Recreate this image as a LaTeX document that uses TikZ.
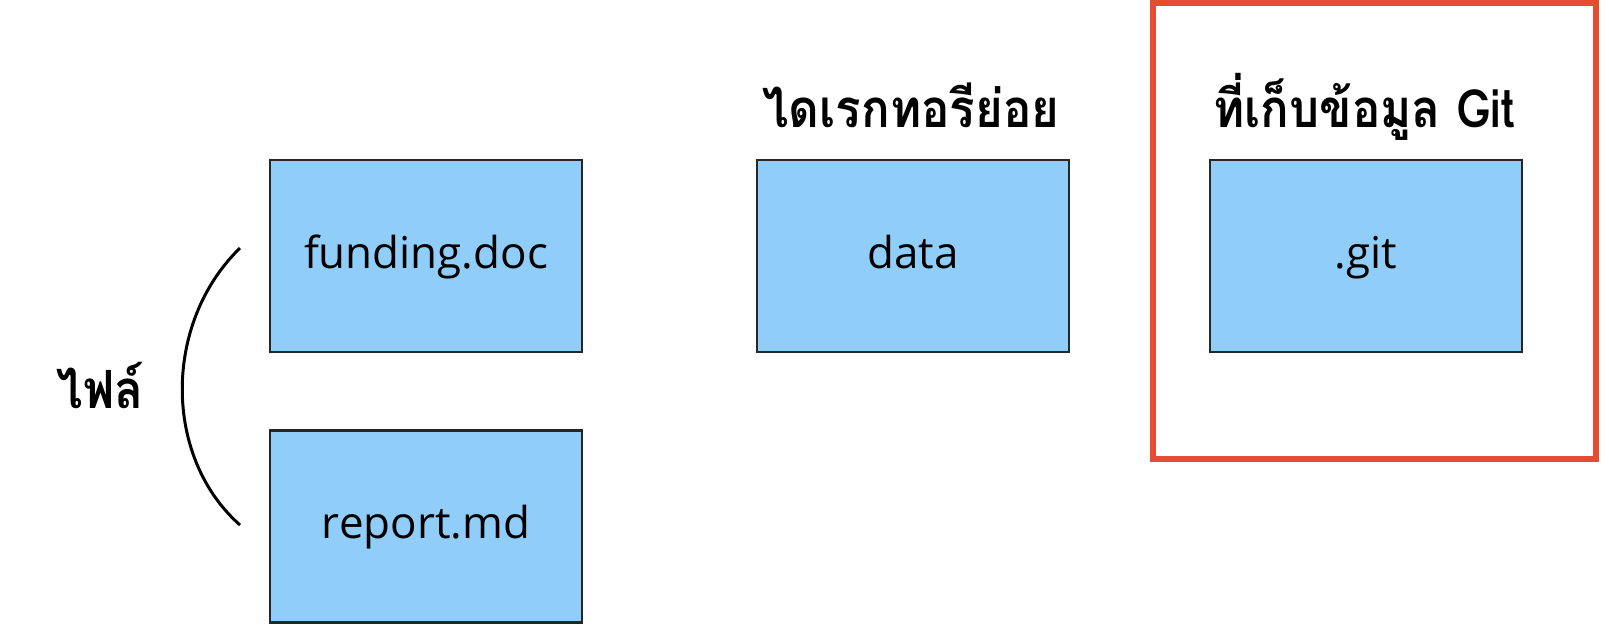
\documentclass[tikz,border=0pt]{standalone}
\usepackage{fontspec}
\setmainfont{Open Sans}
\newfontfamily\thaifont[Script=Thai,FakeStretch=0.9]{Loma}
\definecolor{fileblue}{RGB}{144,205,248}
\definecolor{repored}{RGB}{232,76,48}

\begin{document}
\begin{tikzpicture}[x=0.02cm,y=-0.02cm]
   \useasboundingbox (0,0) rectangle (1609,640);
   \tikzstyle{filebox}=[rectangle, draw=black!85, line width=1.2pt, fill=fileblue, minimum width=6.24cm, minimum height=3.84cm, text height=1.6em, text depth=0.2em, font=\fontsize{25}{29}\selectfont]
   \tikzstyle{heading}=[anchor=base, font=\thaifont\bfseries\fontsize{30}{34}\selectfont]
   \node[draw=repored, line width=3.5pt, minimum width=8.86cm, minimum height=9.12cm] (repo) at (1374.5,231) {};
   \node[filebox] (funding) at (426,256) {funding.doc};
   \node[filebox] (report) at (426,526.5) {report.md};
   \node[filebox] (data) at (913,256) {data};
   \node[filebox] (git) at (1366,256) {.git};
   \node[heading] (subdir) at (911,127) {ไดเรกทอรีย่อย};
   \node[heading] (store) at (1364,127) {ที่เก็บข้อมูล Git};
   \node[heading] (files) at (100,408) {ไฟล์};
   \coordinate (ctop) at (240,248);
   \coordinate (cbot) at (240,525);
   \draw[line width=1.7pt] (ctop) .. controls (163,323) and (163,457) .. (cbot);
\end{tikzpicture}
\end{document}
